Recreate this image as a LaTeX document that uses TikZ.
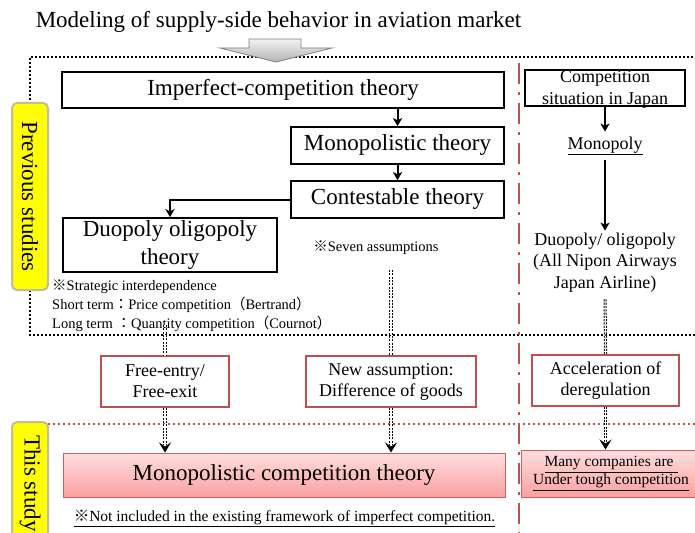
\documentclass[tikz,border=0pt]{standalone}
\usepackage{fontspec}
\setmainfont{LiberationSerif}[Extension=.ttf, UprightFont=*-Regular, BoldFont=*-Bold, ItalicFont=*-Italic]
\newfontfamily\cjk{Noto Sans CJK JP}
\usetikzlibrary{arrows.meta,calc}
\definecolor{redb}{HTML}{C0504D}
\definecolor{ylw}{HTML}{FFFF00}
\definecolor{tanb}{HTML}{C4BD97}
\definecolor{pinktop}{RGB}{255,222,222}
\definecolor{pinkbot}{RGB}{250,160,160}
\definecolor{pinkedge}{RGB}{205,95,95}
\tikzset{
  blackbox/.style={draw=black, line width=1.6pt, inner sep=0pt, align=center, font=\fontsize{23}{27.5}\selectfont},
  redbox/.style={draw=redb, line width=1.4pt, fill=white, inner sep=0pt, align=center, font=\fontsize{18}{21}\selectfont},
  pinkbox/.style={draw=pinkedge, line width=1pt, top color=pinktop, bottom color=pinkbot, inner sep=0pt, align=center},
  ylabel/.style={draw=tanb, line width=2pt, fill=ylw, rounded corners=5pt, inner sep=0pt, rotate=-90, font=\fontsize{23}{27}\selectfont},
  arr/.style={line width=2pt, -{Stealth[length=8pt,width=9pt,inset=2pt]}},
  dbl/.style={line width=1pt, draw=black, double=white, double distance=1.1pt, dash pattern=on 2pt off 1.3pt},
  tipb/.style={line width=0.8pt, -{Stealth[length=10pt,width=12pt,inset=4pt]}},
  note/.style={inner sep=0pt, font=\fontsize{14.5}{19}\selectfont, align=left},
  plain/.style={inner sep=0pt, align=center}
}
\begin{document}
\begin{tikzpicture}[x=1pt,y=-1pt]
\useasboundingbox (0,0) rectangle (695,532);
\node[plain, font=\fontsize{23}{27}\selectfont] (title) at (278.5,22) {Modeling of supply-side behavior in aviation market};
% dotted frame of previous studies
\draw[line width=2pt, dash pattern=on 2pt off 2pt] (705,57) -- (30,57) -- (30,335) -- (705,335);
% red dash-dot separator
\draw[redb, line width=2pt, dash pattern=on 21pt off 8pt on 3pt off 8pt] (519,63) -- (519,540);
% red dotted horizontal
\draw[redb, line width=1.6pt, dash pattern=on 2pt off 3pt] (48,424) -- (700,424);
% gray block arrow
\path[draw=black!50, line width=0.8pt, top color=black!5, bottom color=black!30]
  (249,39) -- (301,39) -- (301,48) -- (332,48) -- (276,62) -- (220,48) -- (249,48) -- cycle;
% labels
\node[ylabel, minimum width=187pt, minimum height=36pt] (prev) at (30,196.5) {Previous studies};
\node[ylabel, minimum width=123pt, minimum height=36pt] (this) at (30,483.5) {This study};
% theory boxes
\node[blackbox, minimum width=442pt, minimum height=36pt] (imp) at (283,90) {Imperfect-competition theory};
\node[blackbox, minimum width=213pt, minimum height=37pt] (mono) at (397.5,145.5) {Monopolistic theory};
\node[blackbox, minimum width=213pt, minimum height=37pt] (ct) at (397.5,199.5) {Contestable theory};
\node[blackbox, minimum width=214pt, minimum height=54pt] (duo) at (170,245) {Duopoly oligopoly\\theory};
\draw[arr] (mono.north |- imp.south) -- (mono.north);
\draw[arr] (mono.south) -- (ct.north);
\draw[arr] (ct.west) -| (duo.north);
\node[note, anchor=west] (notes) at (52,306) {{\cjk ※}Strategic interdependence\\Short term{\cjk ：}Price competition{\cjk （}Bertrand{\cjk ）}\\Long term {\cjk ：}Quantity competition{\cjk （}Cournot{\cjk ）}};
\node[note] (seven) at (376,248) {{\cjk ※}Seven assumptions};
% Japan column
\node[draw=black, line width=1.6pt, minimum width=160pt, minimum height=36pt, inner sep=0pt] (cj) at (605,88) {};
\node[plain, font=\fontsize{18}{22}\selectfont] (cjt) at (605,89.5) {Competition\\situation in Japan};
\node[plain, inner ysep=5pt, font=\fontsize{18}{21}\selectfont] (monop) at (605,146) {\underline{Monopoly}};
\node[plain, inner sep=2pt, font=\fontsize{18}{21.5}\selectfont] (jd) at (605,262.5) {Duopoly/ oligopoly\\(All Nipon Airways\\Japan Airline)};
\draw[arr] (cj.south) -- (monop.north);
\draw[arr] (monop.south) -- (jd.north);
% red boxes
\node[redbox, minimum width=128pt, minimum height=51pt] (fe) at (165,381.5) {Free-entry/\\Free-exit};
\node[redbox, minimum width=170pt, minimum height=51pt] (na) at (391,381.5) {New assumption:\\Difference of goods};
\node[redbox, minimum width=147pt, minimum height=51pt] (acc) at (605.5,380.5) {Acceleration of\\deregulation};
% pink boxes
\node[pinkbox, minimum width=442pt, minimum height=44pt, font=\fontsize{23}{27}\selectfont] (mc) at (284,475) {Monopolistic competition theory};
\node[pinkbox, minimum width=180pt, minimum height=47pt, font=\fontsize{15.5}{18}\selectfont] (mcr) at (611,473.5) {\underline{Many companies are\ }\\\underline{Under tough competition}};
\node[plain, font=\fontsize{15.5}{18}\selectfont] (foot) at (284.5,518) {\underline{{\cjk ※}Not included in the existing framework of imperfect competition.}};
% double dotted connectors
\coordinate (s1) at (165,325);
\coordinate (s2) at (391,270);
\draw[dbl] (s1) -- (fe.north);
\draw[dbl] (s2) -- (na.north);
\draw[dbl, shorten <=5pt] (jd.south) -- (acc.north);
\coordinate (e1) at (mc.north -| fe.south);
\coordinate (e2) at (mc.north -| na.south);
\coordinate (e3) at (mcr.north -| acc.south);
\draw[dbl, shorten >=8pt] (fe.south) -- (e1);
\draw[dbl, shorten >=8pt] (na.south) -- (e2);
\draw[dbl, shorten >=8pt] (acc.south) -- (e3);
\draw[tipb] ($(e1)+(0,-4)$) -- (e1);
\draw[tipb] ($(e2)+(0,-4)$) -- (e2);
\draw[tipb] ($(e3)+(0,-4)$) -- (e3);
\end{tikzpicture}
\end{document}
